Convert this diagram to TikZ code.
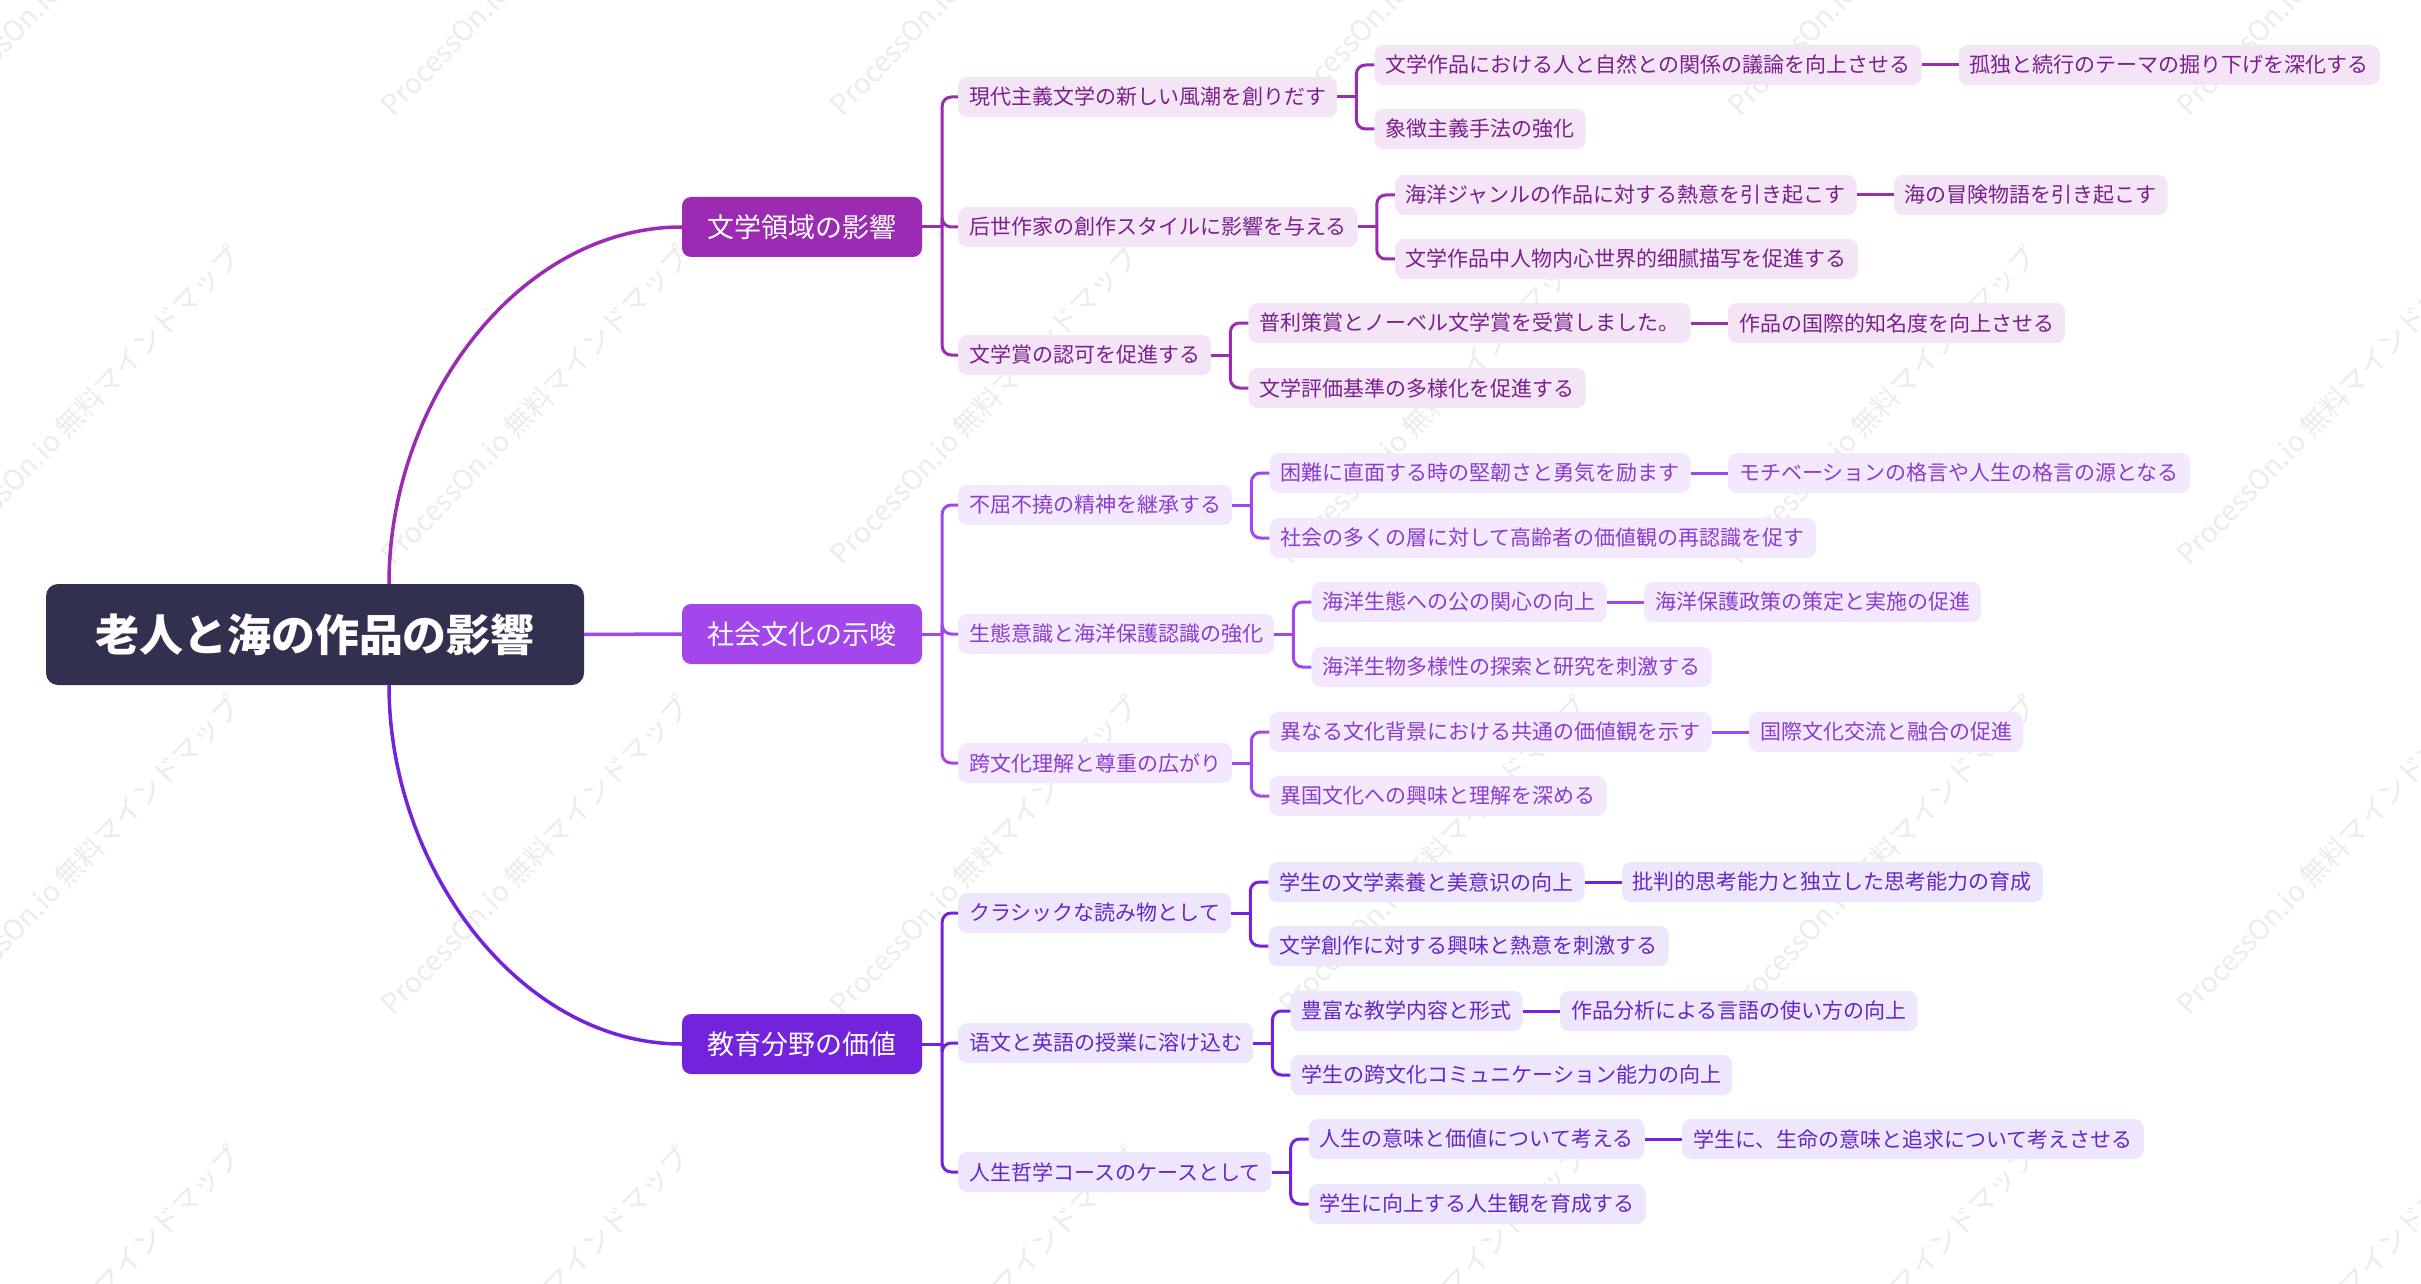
\documentclass[tikz,border=0pt]{standalone}
\usepackage{fontspec}
\setmainfont{Noto Sans CJK JP}
\usetikzlibrary{calc}
\definecolor{rootc}{HTML}{32304F}
\definecolor{bA}{HTML}{9C2BB4}
\definecolor{bB}{HTML}{A347EC}
\definecolor{bC}{HTML}{7423DD}
\definecolor{fA}{HTML}{F3E5F6}
\definecolor{fB}{HTML}{F3E8FE}
\definecolor{fC}{HTML}{EEE6FC}
\definecolor{tA}{HTML}{7B1F8E}
\definecolor{tB}{HTML}{8B3DCF}
\definecolor{tC}{HTML}{6428C8}
\definecolor{wm}{HTML}{ECECEC}
\newcommand\mmElbow[4]{%
  \draw[#1] (#2.east) -- ($(#2.east)+(#4,0)$);
  \draw[#1,rounded corners=9pt] ($(#2.east)+(#4,0)$) |- (#3.west);}
\tikzset{
  rootnode/.style={rectangle, rounded corners=12pt, fill=rootc, text=white,
    font=\fontsize{44}{50}\selectfont\bfseries, minimum width=538pt, minimum height=101pt, inner sep=0pt},
  lone/.style={rectangle, rounded corners=9pt, text=white,
    font=\fontsize{27}{32}\selectfont, minimum width=240pt, minimum height=60pt, inner sep=0pt},
  sub/.style={rectangle, rounded corners=9pt, font=\fontsize{21}{25}\selectfont,
    minimum height=40pt, inner xsep=11pt, inner ysep=0pt, anchor=west},
  subA/.style={sub, fill=fA, text=tA},
  subB/.style={sub, fill=fB, text=tB},
  subC/.style={sub, fill=fC, text=tC},
  lkA/.style={draw=bA, line width=3pt},
  lkB/.style={draw=bB, line width=3pt},
  lkC/.style={draw=bC, line width=3pt},
  wmark/.style={text=wm, font=\fontsize{28}{32}\selectfont, rotate=46, inner sep=0pt}
}
\begin{document}
\begin{tikzpicture}[x=1pt,y=-1pt]
\fill[white] (0,0) rectangle (2421,1284);
\useasboundingbox (0,0) rectangle (2421,1284);
% watermark
\foreach \x [count=\i] in {86,535,984,1433,1882,2331}
  \foreach \y [count=\j] in {-44,405,855,1305}
    \node[wmark] (wm\i\j) at (\x,\y) {ProcessOn.io 無料マインドマップ};

% root and main branches
\node[rootnode] (root) at (315,634.5) {老人と海の作品の影響};
\node[lone, fill=bA] (A) at (802,227) {文学領域の影響};
\node[lone, fill=bB] (B) at (802,634) {社会文化の示唆};
\node[lone, fill=bC] (C) at (802,1044) {教育分野の価値};

\draw[draw=bA, line width=3.5pt] (root.north -| 389,0) .. controls (389,400) and (520,227) .. (A.west);
\draw[draw=bB, line width=3.5pt] (root.east) -- (B.west);
\draw[draw=bC, line width=3.5pt] (root.south -| 389,0) .. controls (389,868) and (520,1044) .. (C.west);

% ---------- Branch A ----------
\node[subA] (A1) at (958,97) {現代主義文学の新しい風潮を創りだす};
\node[subA] (A1a) at ($(A1.east)+(37,-32)$) {文学作品における人と自然との関係の議論を向上させる};
\node[subA] (A1a1) at ($(A1a.east)+(37,0)$) {孤独と続行のテーマの掘り下げを深化する};
\node[subA] (A1b) at ($(A1.east)+(37,32)$) {象徴主義手法の強化};

\node[subA] (A2) at (958,227) {后世作家の創作スタイルに影響を与える};
\node[subA] (A2a) at ($(A2.east)+(37,-32)$) {海洋ジャンルの作品に対する熱意を引き起こす};
\node[subA] (A2a1) at ($(A2a.east)+(37,0)$) {海の冒険物語を引き起こす};
\node[subA] (A2b) at ($(A2.east)+(37,32)$) {文学作品中人物内心世界的细腻描写を促進する};

\node[subA] (A3) at (958,355) {文学賞の認可を促進する};
\node[subA] (A3a) at ($(A3.east)+(37,-32)$) {普利策賞とノーベル文学賞を受賞しました。};
\node[subA] (A3a1) at ($(A3a.east)+(37,0)$) {作品の国際的知名度を向上させる};
\node[subA] (A3b) at ($(A3.east)+(37,33)$) {文学評価基準の多様化を促進する};

\mmElbow{lkA}{A}{A1}{20}
\mmElbow{lkA}{A}{A2}{20}
\mmElbow{lkA}{A}{A3}{20}
\mmElbow{lkA}{A1}{A1a}{19}
\mmElbow{lkA}{A1}{A1b}{19}
\mmElbow{lkA}{A2}{A2a}{19}
\mmElbow{lkA}{A2}{A2b}{19}
\mmElbow{lkA}{A3}{A3a}{19}
\mmElbow{lkA}{A3}{A3b}{19}
\draw[lkA] (A1a.east) -- (A1a1.west);
\draw[lkA] (A2a.east) -- (A2a1.west);
\draw[lkA] (A3a.east) -- (A3a1.west);

% ---------- Branch B ----------
\node[subB] (B1) at (958,505) {不屈不撓の精神を継承する};
\node[subB] (B1a) at ($(B1.east)+(37,-32)$) {困難に直面する時の堅韌さと勇気を励ます};
\node[subB] (B1a1) at ($(B1a.east)+(37,0)$) {モチベーションの格言や人生の格言の源となる};
\node[subB] (B1b) at ($(B1.east)+(37,33)$) {社会の多くの層に対して高齢者の価値観の再認識を促す};

\node[subB] (B2) at (958,634) {生態意識と海洋保護認識の強化};
\node[subB] (B2a) at ($(B2.east)+(37,-32)$) {海洋生態への公の関心の向上};
\node[subB] (B2a1) at ($(B2a.east)+(37,0)$) {海洋保護政策の策定と実施の促進};
\node[subB] (B2b) at ($(B2.east)+(37,33)$) {海洋生物多様性の探索と研究を刺激する};

\node[subB] (B3) at (958,763) {跨文化理解と尊重の広がり};
\node[subB] (B3a) at ($(B3.east)+(37,-31)$) {異なる文化背景における共通の価値観を示す};
\node[subB] (B3a1) at ($(B3a.east)+(37,0)$) {国際文化交流と融合の促進};
\node[subB] (B3b) at ($(B3.east)+(37,33)$) {異国文化への興味と理解を深める};

\mmElbow{lkB}{B}{B1}{20}
\mmElbow{lkB}{B}{B2}{20}
\mmElbow{lkB}{B}{B3}{20}
\mmElbow{lkB}{B1}{B1a}{19}
\mmElbow{lkB}{B1}{B1b}{19}
\mmElbow{lkB}{B2}{B2a}{19}
\mmElbow{lkB}{B2}{B2b}{19}
\mmElbow{lkB}{B3}{B3a}{19}
\mmElbow{lkB}{B3}{B3b}{19}
\draw[lkB] (B1a.east) -- (B1a1.west);
\draw[lkB] (B2a.east) -- (B2a1.west);
\draw[lkB] (B3a.east) -- (B3a1.west);

% ---------- Branch C ----------
\node[subC] (C1) at (958,913) {クラシックな読み物として};
\node[subC] (C1a) at ($(C1.east)+(37,-31)$) {学生の文学素養と美意识の向上};
\node[subC] (C1a1) at ($(C1a.east)+(37,0)$) {批判的思考能力と独立した思考能力の育成};
\node[subC] (C1b) at ($(C1.east)+(37,33)$) {文学創作に対する興味と熱意を刺激する};

\node[subC] (C2) at (958,1043) {语文と英語の授業に溶け込む};
\node[subC] (C2a) at ($(C2.east)+(37,-32)$) {豊富な教学内容と形式};
\node[subC] (C2a1) at ($(C2a.east)+(37,0)$) {作品分析による言語の使い方の向上};
\node[subC] (C2b) at ($(C2.east)+(37,32)$) {学生の跨文化コミュニケーション能力の向上};

\node[subC] (C3) at (958,1172) {人生哲学コースのケースとして};
\node[subC] (C3a) at ($(C3.east)+(37,-33)$) {人生の意味と価値について考える};
\node[subC] (C3a1) at ($(C3a.east)+(37,0)$) {学生に、生命の意味と追求について考えさせる};
\node[subC] (C3b) at ($(C3.east)+(37,32)$) {学生に向上する人生観を育成する};

\mmElbow{lkC}{C}{C1}{20}
\mmElbow{lkC}{C}{C2}{20}
\mmElbow{lkC}{C}{C3}{20}
\mmElbow{lkC}{C1}{C1a}{19}
\mmElbow{lkC}{C1}{C1b}{19}
\mmElbow{lkC}{C2}{C2a}{19}
\mmElbow{lkC}{C2}{C2b}{19}
\mmElbow{lkC}{C3}{C3a}{19}
\mmElbow{lkC}{C3}{C3b}{19}
\draw[lkC] (C1a.east) -- (C1a1.west);
\draw[lkC] (C2a.east) -- (C2a1.west);
\draw[lkC] (C3a.east) -- (C3a1.west);
\end{tikzpicture}
\end{document}
